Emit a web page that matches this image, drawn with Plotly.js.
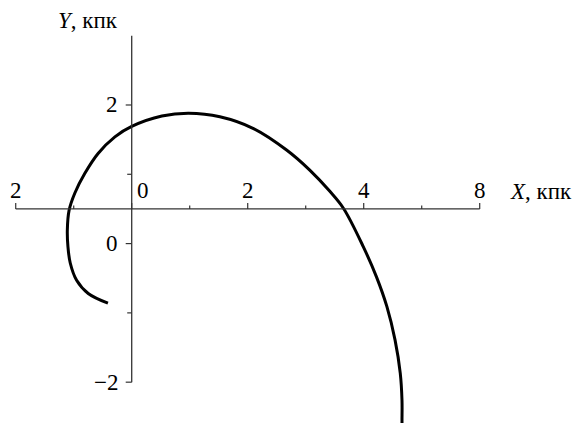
<!DOCTYPE html>
<html>
<head>
<meta charset="utf-8">
<script src="https://cdn.plot.ly/plotly-3.0.1.min.js"></script>
<style>
  html, body { margin: 0; padding: 0; background: #fff; }
  #chart { width: 579px; height: 423px; }
</style>
</head>
<body>
<div id="chart"></div>
<script>
// Trajectory in the plane, kpc
const trackX = [-0.41, -0.75, -0.95, -1.06, -1.10, -1.11, -1.08, -0.98, -0.81, -0.58, -0.29, 0.00, 0.52, 0.98, 1.52, 2.10, 2.67, 3.07, 3.42, 3.65, 3.99, 4.22, 4.40, 4.54, 4.63, 4.66, 4.66, 4.66];
const trackY = [-0.86, -0.72, -0.53, -0.28, -0.04, 0.20, 0.48, 0.73, 1.01, 1.30, 1.54, 1.69, 1.84, 1.88, 1.83, 1.66, 1.35, 1.06, 0.75, 0.51, -0.04, -0.48, -0.91, -1.39, -1.87, -2.26, -2.55, -2.65];

// Axis geometry (data units)
const xAxisLevel = 0.5;          // height at which the X axis is drawn
const xAxisSpan = [-2, 6];
const yAxisSpan = [-2, 3];

// Ticks and their labels
const xMajorTicks = [-2, 0, 2, 4, 6];
const xMajorLabels = ['2', '0', '2', '4', '8'];
const xMinorTicks = [-1, 1, 3, 5];
const yMajorTicks = [2, 0, -2];
const yMajorLabels = ['2', '0', '\u22122'];
const yMinorTicks = [1, -1];

const axisColor = '#333';
const fontFamily = 'Liberation Serif';
const fontSize = 23;

function labelFont() {
  return { family: fontFamily, size: fontSize, color: '#000' };
}

const shapes = [];
// X axis line
shapes.push({ type: 'line', xref: 'x', yref: 'y', x0: xAxisSpan[0], x1: xAxisSpan[1], y0: xAxisLevel, y1: xAxisLevel,
  line: { color: axisColor, width: 1.3 } });
// Y axis line
shapes.push({ type: 'line', xref: 'x', yref: 'y', x0: 0, x1: 0, y0: yAxisSpan[0], y1: yAxisSpan[1],
  line: { color: axisColor, width: 1.3 } });
// X ticks point upward
xMajorTicks.concat(xMinorTicks).forEach(v => {
  const len = xMajorTicks.includes(v) ? 6 : 3.5;
  shapes.push({ type: 'line', xref: 'x', yref: 'y', ysizemode: 'pixel', yanchor: xAxisLevel,
    x0: v, x1: v, y0: 0, y1: len, line: { color: axisColor, width: 1.2 } });
});
// Y ticks point left
yMajorTicks.concat(yMinorTicks).forEach(v => {
  const len = yMajorTicks.includes(v) ? 6 : 4.5;
  shapes.push({ type: 'line', xref: 'x', yref: 'y', xsizemode: 'pixel', xanchor: 0,
    x0: -len, x1: 0, y0: v, y1: v, line: { color: axisColor, width: 1.2 } });
});

const annotations = [];
xMajorTicks.forEach((v, i) => {
  annotations.push({ xref: 'x', yref: 'y', x: v, y: xAxisLevel, text: xMajorLabels[i], showarrow: false,
    xanchor: 'center', yanchor: 'middle', yshift: 18, xshift: v === 0 ? 11 : 0, font: labelFont() });
});
yMajorTicks.forEach((v, i) => {
  annotations.push({ xref: 'x', yref: 'y', x: 0, y: v, text: yMajorLabels[i], showarrow: false,
    xanchor: 'right', yanchor: 'middle', xshift: -12, yshift: 0, font: labelFont() });
});
annotations.push({ xref: 'x', yref: 'y', x: 0, y: yAxisSpan[1], text: '<i>Y</i>, кпк', showarrow: false,
  xanchor: 'center', yanchor: 'middle', xshift: -44, yshift: 15, font: labelFont() });
annotations.push({ xref: 'x', yref: 'y', x: xAxisSpan[1], y: xAxisLevel, text: '<i>X</i>, кпк', showarrow: false,
  xanchor: 'left', yanchor: 'middle', xshift: 28, yshift: 17, font: labelFont() });

const trace = {
  x: trackX, y: trackY, type: 'scatter', mode: 'lines',
  line: { color: '#000', width: 3, shape: 'spline', smoothing: 1 },
  hoverinfo: 'skip'
};

const layout = {
  width: 579, height: 423,
  margin: { l: 0, r: 0, t: 0, b: 0 },
  paper_bgcolor: '#fff', plot_bgcolor: '#fff',
  showlegend: false,
  font: { family: fontFamily, size: fontSize, color: '#000' },
  xaxis: { range: [-2.271, 7.712], visible: false, fixedrange: true },
  yaxis: { range: [-2.589, 3.515], visible: false, fixedrange: true },
  shapes: shapes,
  annotations: annotations
};

Plotly.newPlot('chart', [trace], layout, { staticPlot: true, displayModeBar: false });
</script>
</body>
</html>
